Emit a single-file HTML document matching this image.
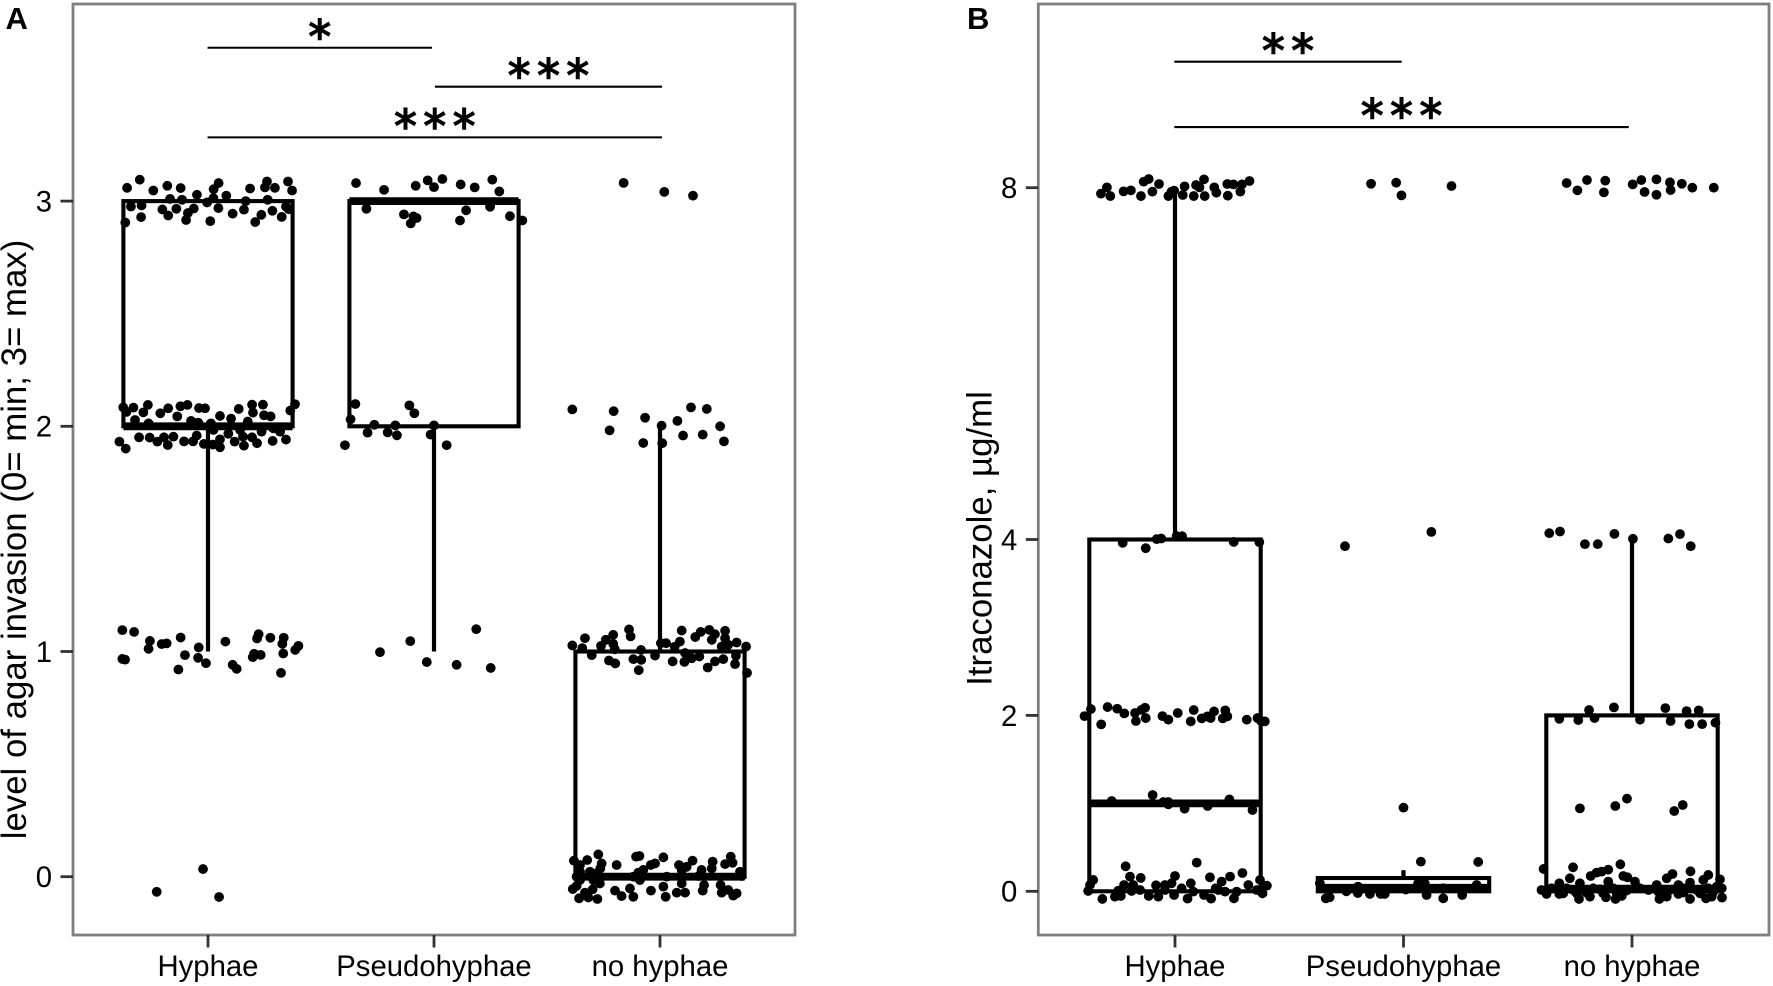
<!DOCTYPE html>
<html lang="en">
<head>
<meta charset="utf-8">
<title>Agar invasion and Itraconazole box plots</title>
<style>
html,body{margin:0;padding:0;background:#fff;width:1773px;height:986px;overflow:hidden}
svg{display:block;font-family:"Liberation Sans",Arial,sans-serif}
</style>
</head>
<body>
<svg id="fig" width="1773" height="986" viewBox="0 0 1773 986" xmlns="http://www.w3.org/2000/svg"></svg>
<script>
const categories = ['Hyphae','Pseudohyphae','no hyphae'];

const aTicks = [0,1,2,3];
const aQ1 = [2,2,0];
const aMedian = [2,3,0];
const aQ3 = [3,3,1];
const aWhiskerLow = [1,1,0];
const aWhiskerHigh = [3,3,2];
const aSigLabels = ['*','***','***'];
const aSigFrom = [0.998,2.004,0.998];
const aSigTo = [1.991,3.009,3.009];
const aSigLevel = [3.681,3.508,3.283];

const bTicks = [0,2,4,8];
const bQ1 = [0,0,0];
const bMedian = [1,0.04,0.03];
const bQ3 = [4,0.151,2];
const bWhiskerLow = [0,0,0];
const bWhiskerHigh = [8,0.24,4];
const bSigLabels = ['**','***'];
const bSigFrom = [0.997,0.997];
const bSigTo = [1.992,2.986];
const bSigLevel = [9.433,8.690];

// each point: [horizontal jitter in category units, measured value]
const aHyphaePoints = [
[-.358,3.059],[-.302,3.095],[-.242,3.047],[-.180,3.068],[-.121,3.058],[-.168,3.010],[-.115,3.006],[-.049,3.028],[.025,3.053],[.047,3.080],[.024,3.013],[-.004,2.994],[.081,3.024],[.186,3.056],[.167,3.0],[.252,3.061],[.261,3.087],[.296,3.059],[.264,3.006],[.354,3.087],[.372,3.047],
[-.341,2.976],[-.294,2.981],[-.366,2.905],[-.296,2.929],[-.202,2.963],[-.176,2.936],[-.140,2.966],[-.063,2.967],[-.089,2.947],[-.097,2.916],[.010,2.911],[.046,2.969],[.109,2.944],[.159,2.962],[.209,2.907],[.236,2.939],[.285,2.957],[.326,2.930],[.345,2.976],[.357,2.964],
[-.375,2.084],[-.330,2.083],[-.266,2.095],[-.286,2.062],[-.361,2.064],[-.211,2.058],[-.176,2.080],[-.122,2.089],[-.091,2.095],[-.136,2.044],[-.040,2.081],[-.013,2.080],[.053,2.046],[.136,2.077],[.195,2.096],[.243,2.096],[.199,2.061],[.248,2.049],[.277,2.044],[.385,2.098],[.364,2.070],
[-.323,2.028],[-.263,2.013],[-.075,2.024],[-.043,2.016],[.013,2.013],[.102,2.034],[.176,2.021],
[-.392,1.932],[-.364,1.901],[-.305,1.951],[-.258,1.950],[-.224,1.932],[-.195,1.951],[-.178,1.917],[-.153,1.954],[-.106,1.933],[-.066,1.933],[-.050,1.959],[-.018,1.922],[.021,1.919],[.053,1.942],[.053,1.907],[.090,1.967],[.118,1.932],[.155,1.954],[.159,1.914],[.195,1.951],[.217,1.925],[.237,1.976],[.286,1.935],[.319,1.976],[.345,1.941],[.024,1.984],[.142,1.984],[.289,1.991],
[-.379,1.095],[-.327,1.087],[-.257,1.047],[-.263,1.012],[-.205,1.033],[-.183,1.036],[-.121,1.062],[-.041,1.018],[.077,1.044],[.224,1.077],[.217,1.058],[.276,1.061],[.335,1.061],[.329,1.034],[.400,1.025],[.386,1.007],
[-.379,.967],[-.367,.964],[-.102,.984],[-.044,.972],[-.009,.948],[-.131,.920],[.109,.941],[.127,.923],[.204,.990],[.198,.975],[.233,.985],[.333,.991],[.323,.905],
[-.227,-.067],[-.022,.034],[.049,-.090]
];
const aPseudoPoints = [
[-.345,3.080],[-.221,3.050],[-.081,3.068],[-.028,3.092],[0,3.062],[.037,3.098],[.118,3.074],[.180,3.061],[.258,3.095],[.289,3.043],
[-.299,2.966],[-.133,2.941],[-.103,2.901],[-.091,2.932],[-.077,2.925],[.115,2.914],[.142,2.959],[.248,2.975],[.336,2.933],[.391,2.914],
[-.348,2.099],[-.369,2.031],[-.109,2.093],[-.087,2.058],[-.264,2.007],[-.171,2.004],[0,2.004],[-.294,1.972],[-.205,1.973],[-.164,1.960],[-.015,1.963],[-.394,1.916],[.056,1.916],
[-.239,.997],[-.105,1.046],[-.032,.953],[.100,.941],[.187,1.099],[.251,.927]
];
const aNoHyphaePoints = [
[-.161,3.081],[.019,3.041],[.146,3.024],
[-.388,2.075],[-.205,2.067],[-.223,1.982],[-.066,2.038],[.007,2.003],[.077,2.024],[.137,2.084],[.207,2.077],[.266,2.0],[.102,1.959],[.189,1.963],[.283,1.933],[-.074,1.926],[.010,1.925],
[-.388,1.027],[-.344,1.015],[-.332,1.059],[-.302,.984],[-.261,1.025],[-.240,1.052],[-.207,1.074],[-.207,1.034],[-.200,1.010],[-.226,.960],[-.198,.947],[-.137,1.098],[-.130,1.067],[-.084,1.007],[-.118,.966],[-.083,.963],[-.094,.917],[-.022,.982],[.004,1.037],[.027,1.037],[.065,1.021],[.088,1.044],[.096,1.093],[.056,.956],[.108,.954],[.111,.993],[.140,.970],[.174,.978],[.156,1.064],[.180,1.087],[.218,1.096],[.243,1.077],[.229,1.052],[.288,1.092],[.288,1.059],[.273,1.022],[.302,1.030],[.339,1.040],[.381,1.022],[.336,.981],[.280,.966],[.243,.956],[.211,.929],[.332,.944],[.385,.905],
[-.273,.099],[-.381,.071],[-.322,.074],[-.258,.059],[-.354,.052],[-.264,.037],[-.192,.052],[-.106,.089],[-.091,.092],[-.041,.052],[-.022,.059],[.015,.086],[.084,.052],[.144,.071],[.118,.044],[.096,.030],[.184,.030],[.233,.067],[.229,.037],[.313,.089],[.288,.056],[.321,.062],[.354,.022],[-.074,.030],[-.096,.018],[-.354,.022],[-.310,.022],[-.280,.015],
[-.386,-.055],[-.369,-.041],[-.358,-.096],[-.332,-.071],[-.317,-.092],[-.298,-.056],[-.277,-.099],[-.266,-.030],[-.199,-.062],[-.170,-.086],[-.133,-.052],[-.118,-.089],[-.089,-.015],[-.040,-.062],[.015,-.044],[.025,-.089],[.074,-.071],[.111,-.071],[.096,-.030],[.189,-.062],[.195,-.037],[.273,-.071],[.268,-.037],[.302,-.059],[.324,-.084],[.339,-.074],[-.354,-.015],[-.295,-.015],[.103,0],[.361,.003],[-.369,0],[-.118,0],[.030,0],[.171,.003]
];
const bHyphaePoints = [
[-.324,7.932],[-.298,8.004],[-.283,7.905],[-.225,7.958],[-.193,7.970],[-.137,8.068],[-.115,8.099],[-.149,7.905],[-.099,7.955],[-.070,8.042],[-.029,7.905],[-.015,7.955],[-.004,7.966],[.042,8.015],[.034,7.917],[.082,7.905],[.092,8.030],[.107,8.004],[.127,8.095],[.130,7.905],[.172,8.004],[.181,7.943],[.231,7.909],[.229,8.042],[.256,8.038],[.286,7.955],[.293,8.038],[.326,8.076],
[-.229,3.962],[-.128,3.901],[-.080,4.004],[-.060,4.011],[.007,4.038],[.031,4.038],[.257,3.973],[.369,3.970],
[-.396,1.992],[-.368,2.072],[-.323,1.898],[-.295,2.095],[-.253,2.076],[-.222,2.023],[-.171,1.936],[-.175,2.027],[-.146,2.064],[-.131,2.087],[-.128,1.970],[-.055,1.992],[-.029,1.951],[.012,2.027],[.069,1.932],[.082,2.061],[.117,1.966],[.156,1.970],[.142,1.989],[.171,2.045],[.209,1.966],[.220,2.057],[.229,1.989],[.314,1.951],[.361,1.970],[.377,1.936],[.393,1.932],
[-.277,1.027],[-.098,1.095],[-.051,1.015],[-.029,1.015],[-.029,.989],[.042,.939],[.143,.970],[.238,1.045],[.339,.924],
[-.380,.004],[-.358,.129],[-.372,.072],[-.216,.284],[-.318,-.087],[-.263,-.061],[-.237,-.053],[-.248,.008],[-.223,.072],[-.190,.004],[-.197,.167],[-.150,.152],[-.183,.072],[-.115,-.053],[-.083,.068],[-.073,-.061],[-.044,.072],[-.004,-.042],[0,.174],[-.015,.091],[.029,.034],[.055,-.083],[.069,.091],[.095,.326],[.127,-.042],[.153,.159],[.158,-.083],[.178,.034],[.204,.110],[.219,-.004],[.241,.167],[.258,-.080],[.270,-.004],[.295,.208],[.321,.072],[.358,.015],[.372,.129],[.383,-.023],[.402,.064],[-.044,.015],[-.153,.015],[.080,-.004],[.190,.015]
];
const bPseudoPoints = [
[-.142,8.045],[-.032,8.057],[-.009,7.913],[.210,8.019],
[-.256,3.924],[.122,4.087],[0,.951],[.076,.337],[.327,.334],
[-.147,-.03],[-.082,-.03],[-.199,.053],[.093,.091],[.064,.091],[.101,-.042],[.174,.034],[.174,-.080],[.257,-.042],[.320,.072],[-.323,-.068],
[-.366,.091],[-.36,.034],[-.340,-.080],[-.25,0],[-.2,-.02],[-.1,-.03],[.01,.02]
];
const bNoHyphaePoints = [
[-.286,8.053],[-.239,7.970],[-.197,8.087],[-.117,8.080],[-.123,7.947],[.003,8.038],[.041,8.087],[.055,7.951],[.107,8.095],[.107,7.920],[.166,8.061],[.169,7.973],[.218,8.045],[.264,8.0],[.358,8.0],
[-.362,4.072],[-.315,4.091],[-.206,3.947],[-.150,3.947],[-.077,4.064],[.004,4.008],[.159,4.011],[.210,4.061],[.257,3.924],
[-.188,2.061],[-.079,2.091],[-.318,1.962],[-.235,1.947],[-.164,1.970],[.035,1.951],[.146,2.083],[.169,1.936],[.239,2.049],[.292,2.057],[.251,1.901],[.307,1.901],[.365,1.917],
[-.228,.943],[-.073,.970],[-.022,1.053],[.185,.913],[.222,.981],
[-.387,.254],[-.258,.273],[-.051,.307],[-.104,.246],[-.133,.224],[-.155,.212],[-.181,.174],[-.272,.148],[-.038,.174],[-.020,.159],[.256,.227],[.177,.197],[.152,.148],[.334,.186],[.312,.129],[.385,.136],[-.318,.091],[-.228,.091],[-.104,.110],[.013,.110],[.108,.072],[.203,.072],[.254,.099],[.393,.034],
[-.396,.015],[-.374,-.030],[-.318,-.030],[-.232,-.087],[-.184,-.061],[-.114,-.068],[-.072,-.087],[-.045,-.053],[.120,-.087],[.152,-.061],[.203,-.030],[.254,-.087],[.324,-.080],[.349,-.061],[.394,-.072],
[-.352,.034],[-.286,.034],[-.257,.015],[-.213,.015],[-.169,.034],[-.140,.023],[-.082,.034],[-.023,.008],[.035,.034],[.072,.015],[.115,-.004],[.166,.015],[.225,.034],[.283,.015],[.334,.034],[.371,.053],[-.301,-.023],[-.242,-.023],[-.199,-.015],[-.126,-.023],[-.067,-.023],[.137,-.023],[.225,-.015],[.298,-.023],[.356,-.004]
];

const NS = 'http://www.w3.org/2000/svg';
const root = document.getElementById('fig');
function make(parent, tag, attrs, text) {
  const el = document.createElementNS(NS, tag);
  for (const k in attrs) el.setAttribute(k, attrs[k]);
  if (text !== undefined) el.textContent = text;
  parent.appendChild(el);
  return el;
}
function drawPanel(cfg) {
  const g = make(root, 'g', {});
  
  

  const frame = make(g, 'rect', {x: cfg.left, y: cfg.top, width: cfg.right - cfg.left, height: cfg.bottom - cfg.top, fill: '#fff', stroke: '#7f7f7f', 'stroke-width': 2.8});
  
  

  const letter = make(g, 'text', {x: cfg.letterX, y: 29, 'font-size': 31, 'font-weight': 700, fill: '#000'}, cfg.letter);
  
  

  const title = make(g, 'text', {transform: 'translate(' + cfg.titleX + ' ' + cfg.titleY + ') rotate(-90)', 'text-anchor': 'middle', 'font-size': 34.8, fill: '#000'}, cfg.title);
  
  

  cfg.ticks.forEach(function (t) {
    const tick = make(g, 'line', {x1: cfg.left - 12.5, x2: cfg.left, y1: cfg.y(t), y2: cfg.y(t), stroke: '#333', 'stroke-width': 2.8});
    
    
    const lab = make(g, 'text', {x: cfg.left - 21, y: cfg.y(t) + 10.4, 'text-anchor': 'end', 'font-size': 29.3, fill: '#000'}, String(t));
    
    
  });

  categories.forEach(function (c, i) {
    const x = cfg.x(i + 1);
    const tick = make(g, 'line', {x1: x, x2: x, y1: cfg.bottom, y2: cfg.bottom + 12.5, stroke: '#333', 'stroke-width': 2.8});
    
    
    const lab = make(g, 'text', {x: x, y: 976, 'text-anchor': 'middle', 'font-size': 29.3, fill: '#000'}, c);
    
    

    const half = cfg.boxHalf;
    const lo = make(g, 'line', {x1: x, x2: x, y1: cfg.y(cfg.q1[i]), y2: cfg.y(cfg.low[i]), stroke: '#000', 'stroke-width': 4.2});
    
    
    const hi = make(g, 'line', {x1: x, x2: x, y1: cfg.y(cfg.q3[i]), y2: cfg.y(cfg.high[i]), stroke: '#000', 'stroke-width': 4.2});
    
    
    const box = make(g, 'rect', {x: x - half, y: cfg.y(cfg.q3[i]), width: half * 2, height: cfg.y(cfg.q1[i]) - cfg.y(cfg.q3[i]), fill: 'none', stroke: '#000', 'stroke-width': 4.1});
    
    
    const med = make(g, 'line', {x1: x - half, x2: x + half, y1: cfg.y(cfg.med[i]), y2: cfg.y(cfg.med[i]), stroke: '#000', 'stroke-width': 7.8});
    
    

    cfg.points[i].forEach(function (p) {
      const dot = make(g, 'circle', {cx: cfg.x(i + 1 + p[0]), cy: cfg.y(p[1]), r: 4.9, fill: '#000'});
      
      
    });
  });

  cfg.sigLabels.forEach(function (s, i) {
    const x1 = cfg.x(cfg.sigFrom[i]);
    const x2 = cfg.x(cfg.sigTo[i]);
    const yy = cfg.y(cfg.sigLevel[i]);
    const bar = make(g, 'line', {x1: x1, x2: x2, y1: yy, y2: yy, stroke: '#000', 'stroke-width': 2.1});
    
    
    const star = make(g, 'text', {x: (x1 + x2) / 2 + 3.4, y: yy - 18.3 + 23, 'text-anchor': 'middle', 'font-size': 45, 'letter-spacing': 6.8, fill: '#000', stroke: '#000', 'stroke-width': 1.5, style: 'font-family:"DejaVu Sans",sans-serif'}, s);
    
    
  });
}

drawPanel({
  key: 'panel-a', letter: 'A', letterX: 5.5, left: 73, right: 795, top: 4, bottom: 935,
  title: 'level of agar invasion (0= min; 3= max)', titleX: 26, titleY: 539.5,
  x: function (c) { return 208 + (c - 1) * 226; },
  y: function (v) { return 876.7 - v * 225.2; },
  boxHalf: 84.6, ticks: aTicks, q1: aQ1, med: aMedian, q3: aQ3, low: aWhiskerLow, high: aWhiskerHigh,
  points: [aHyphaePoints, aPseudoPoints, aNoHyphaePoints],
  sigLabels: aSigLabels, sigFrom: aSigFrom, sigTo: aSigTo, sigLevel: aSigLevel
});
drawPanel({
  key: 'panel-b', letter: 'B', letterX: 967, left: 1038.3, right: 1769, top: 4, bottom: 935,
  title: 'Itraconazole, µg/ml', titleX: 991.7, titleY: 538.5,
  x: function (c) { return 1175 + (c - 1) * 228.5; },
  y: function (v) { return 891.3 - v * 87.95; },
  boxHalf: 85.7, ticks: bTicks, q1: bQ1, med: bMedian, q3: bQ3, low: bWhiskerLow, high: bWhiskerHigh,
  points: [bHyphaePoints, bPseudoPoints, bNoHyphaePoints],
  sigLabels: bSigLabels, sigFrom: bSigFrom, sigTo: bSigTo, sigLevel: bSigLevel
});
</script>
</body>
</html>
